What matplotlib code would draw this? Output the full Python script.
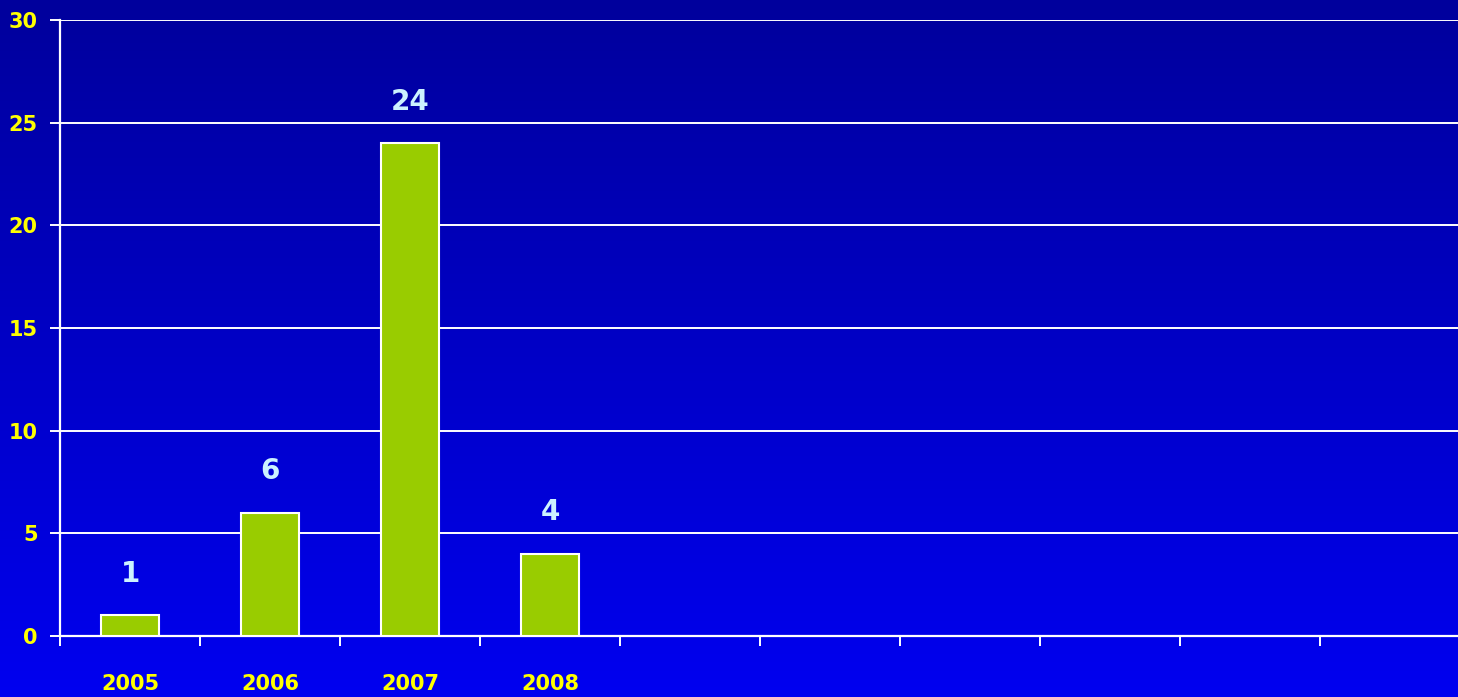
import numpy as np
import matplotlib.pyplot as plt

# Yearly counts; the remaining slots on the axis are empty
years = ['2005', '2006', '2007', '2008', '', '', '', '', '', '']
counts = [1, 6, 24, 4]
yticks = [0, 5, 10, 15, 20, 25, 30]

fig = plt.figure(figsize=(14.58, 6.97), dpi=100)

# Vertical blue gradient behind everything
bg = fig.add_axes([0, 0, 1, 1], zorder=0)
grad = np.linspace(0, 1, 256).reshape(-1, 1)
top = np.array([0x00, 0x00, 0x9C]) / 255
bottom = np.array([0x00, 0x00, 0xF0]) / 255
img = top + (bottom - top) * grad[:, :, None]
bg.imshow(img, aspect='auto', extent=[0, 1, 0, 1])
bg.axis('off')

ax = fig.add_axes([60 / 1458, 61 / 697, 1400 / 1458, 616 / 697], zorder=1)
ax.patch.set_alpha(0)

x = np.arange(len(counts))
bars = ax.bar(x, counts, width=0.41, color='#99CC00', edgecolor='white',
              linewidth=1.5, zorder=3)

for xi, v in zip(x, counts):
    ax.annotate(str(v), (xi, v), xytext=(0, 30), textcoords='offset points',
                ha='center', va='center', color='#CCF2FF', fontsize=20,
                fontweight='bold', zorder=4)

ax.set_xlim(-0.5, len(years) - 0.5)
ax.set_ylim(0, 30)
ax.set_yticks(yticks)
ax.grid(axis='y', color='white', linewidth=1.4, zorder=1)
ax.set_axisbelow(True)

ax.set_xticks(np.arange(len(years)))
ax.set_xticklabels(years)
ax.set_xticks(np.arange(len(years) + 1) - 0.5, minor=True)
ax.tick_params(axis='x', which='major', length=0, pad=27,
               labelcolor='#FFFF00', labelsize=15)
ax.tick_params(axis='x', which='minor', length=7, width=1.4, color='white')
ax.tick_params(axis='y', length=7, width=1.4, color='white', pad=9,
               labelcolor='#FFFF00', labelsize=15)
for lab in ax.get_xticklabels() + ax.get_yticklabels():
    lab.set_fontweight('bold')

for side in ['top', 'right']:
    ax.spines[side].set_visible(False)
for side in ['left', 'bottom']:
    ax.spines[side].set_color('white')
    ax.spines[side].set_linewidth(1.6)

fig.savefig('out.png', dpi=100)
